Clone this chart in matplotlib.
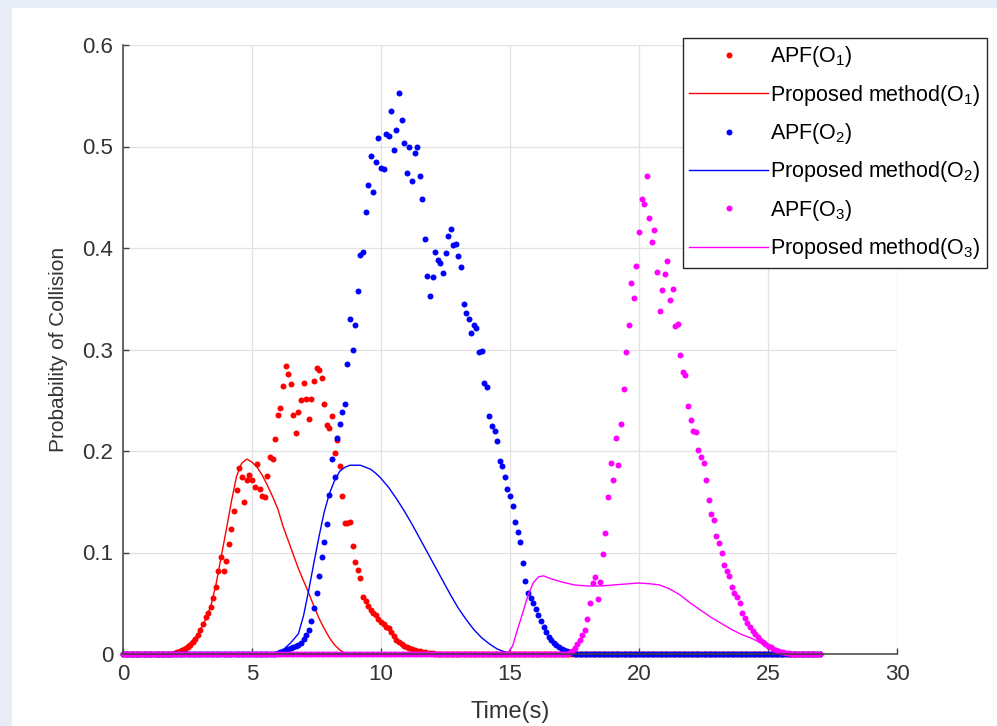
import numpy as np
import matplotlib.pyplot as plt
from matplotlib.patches import Rectangle

plt.rcParams['font.family'] = ['Liberation Sans', 'DejaVu Sans']
plt.rcParams['mathtext.fontset'] = 'custom'
plt.rcParams['mathtext.rm'] = 'Liberation Sans'
plt.rcParams['mathtext.it'] = 'Liberation Sans'
plt.rcParams['mathtext.default'] = 'regular'

# APF samples every 0.1 s over 0..27 s
t_apf = np.round(np.arange(0, 27.01, 0.1), 1)

# nonzero part of each APF series, with the time of its first sample
apf_o1_start = 2.0
apf_o1_vals = [
    0.001, 0.002, 0.003, 0.004, 0.005, 0.007, 0.009, 0.012, 0.015, 0.019,
    0.024, 0.030, 0.036, 0.040, 0.046, 0.055, 0.066, 0.082, 0.096, 0.082,
    0.092, 0.108, 0.123, 0.141, 0.162, 0.183, 0.174, 0.150, 0.171, 0.176,
    0.171, 0.165, 0.187, 0.163, 0.156, 0.155, 0.175, 0.194, 0.192, 0.212,
    0.235, 0.242, 0.264, 0.284, 0.276, 0.266, 0.235, 0.218, 0.238, 0.250,
    0.267, 0.251, 0.232, 0.251, 0.269, 0.282, 0.280, 0.272, 0.246, 0.226,
    0.223, 0.234, 0.198, 0.211, 0.185, 0.156, 0.129, 0.129, 0.130, 0.106,
    0.091, 0.083, 0.075, 0.056, 0.052, 0.047, 0.043, 0.040, 0.038, 0.034,
    0.032, 0.030, 0.027, 0.026, 0.022, 0.018, 0.014, 0.012, 0.010, 0.008,
    0.007, 0.006, 0.005, 0.004, 0.003, 0.003, 0.002, 0.002, 0.001, 0.001,
    0.001,
]

apf_o2_start = 6.0
apf_o2_vals = [
    0.001, 0.002, 0.003, 0.004, 0.005, 0.006, 0.007, 0.008, 0.009, 0.011,
    0.015, 0.019, 0.024, 0.033, 0.045, 0.060, 0.077, 0.096, 0.110, 0.128,
    0.157, 0.192, 0.174, 0.213, 0.227, 0.238, 0.246, 0.286, 0.330, 0.300,
    0.324, 0.358, 0.393, 0.396, 0.435, 0.462, 0.491, 0.455, 0.485, 0.508,
    0.479, 0.478, 0.512, 0.510, 0.535, 0.497, 0.516, 0.553, 0.526, 0.503,
    0.474, 0.500, 0.466, 0.494, 0.500, 0.471, 0.448, 0.409, 0.372, 0.353,
    0.371, 0.396, 0.388, 0.385, 0.375, 0.395, 0.412, 0.419, 0.403, 0.404,
    0.392, 0.381, 0.345, 0.336, 0.330, 0.316, 0.324, 0.321, 0.298, 0.299,
    0.267, 0.263, 0.234, 0.225, 0.220, 0.210, 0.190, 0.185, 0.174, 0.163,
    0.156, 0.146, 0.130, 0.120, 0.110, 0.090, 0.072, 0.060, 0.055, 0.050,
    0.044, 0.038, 0.033, 0.027, 0.022, 0.017, 0.014, 0.011, 0.009, 0.007,
    0.005, 0.004, 0.003, 0.002, 0.001,
]

apf_o3_start = 17.3
apf_o3_vals = [
    0.001, 0.003, 0.006, 0.010, 0.014, 0.019, 0.024, 0.034, 0.050, 0.070,
    0.076, 0.054, 0.071, 0.099, 0.119, 0.155, 0.188, 0.171, 0.213, 0.186,
    0.227, 0.261, 0.298, 0.324, 0.366, 0.351, 0.382, 0.416, 0.448, 0.443,
    0.471, 0.430, 0.406, 0.418, 0.376, 0.338, 0.359, 0.374, 0.387, 0.349,
    0.360, 0.323, 0.325, 0.295, 0.278, 0.275, 0.244, 0.231, 0.220, 0.219,
    0.201, 0.194, 0.188, 0.171, 0.152, 0.138, 0.132, 0.116, 0.109, 0.100,
    0.088, 0.082, 0.077, 0.066, 0.060, 0.056, 0.050, 0.040, 0.035, 0.031,
    0.027, 0.023, 0.020, 0.017, 0.014, 0.012, 0.010, 0.008, 0.007, 0.005,
    0.004, 0.003, 0.002, 0.002, 0.001, 0.001,
]

# proposed method curves (time, probability)
prop_o1_t = [0, 1.5, 1.8, 2.0, 2.2, 2.4, 2.6, 2.8, 3.0, 3.2, 3.4, 3.6, 3.8, 4.0,
             4.2, 4.4, 4.6, 4.8, 5.0, 5.2, 5.4, 5.6, 5.8, 6.0, 6.2, 6.4, 6.6,
             6.8, 7.0, 7.2, 7.4, 7.6, 7.8, 8.0, 8.2, 8.4, 8.6, 8.8, 27]
prop_o1_p = [0, 0, 0.001, 0.002, 0.004, 0.007, 0.011, 0.016, 0.024, 0.034,
             0.047, 0.068, 0.095, 0.122, 0.150, 0.175, 0.188, 0.192, 0.189,
             0.184, 0.176, 0.166, 0.155, 0.143, 0.126, 0.112, 0.098, 0.084,
             0.072, 0.060, 0.047, 0.035, 0.025, 0.016, 0.009, 0.004, 0.001, 0, 0]

prop_o2_t = [0, 5.9, 6.2, 6.5, 6.8, 7.0, 7.2, 7.4, 7.6, 7.8, 8.0, 8.2, 8.4, 8.6,
             8.8, 9.0, 9.2, 9.4, 9.6, 9.8, 10.0, 10.3, 10.6, 10.9, 11.2, 11.5,
             11.8, 12.1, 12.4, 12.7, 13.0, 13.3, 13.6, 13.9, 14.2, 14.5, 14.8,
             15.0, 27]
prop_o2_p = [0, 0, 0.004, 0.011, 0.020, 0.038, 0.063, 0.090, 0.116, 0.140,
             0.158, 0.171, 0.180, 0.184, 0.186, 0.186, 0.186, 0.184, 0.182,
             0.178, 0.173, 0.164, 0.153, 0.141, 0.128, 0.114, 0.100, 0.086,
             0.072, 0.058, 0.045, 0.034, 0.024, 0.016, 0.010, 0.005, 0.002, 0, 0]

prop_o3_t = [0, 14.9, 15.1, 15.3, 15.5, 15.7, 15.9, 16.1, 16.3, 16.6, 17.0, 17.5,
             18.0, 18.5, 19.0, 19.5, 20.0, 20.5, 20.8, 21.2, 21.6, 22.0, 22.4,
             22.8, 23.2, 23.6, 24.0, 24.4, 24.8, 25.1, 25.4, 25.6, 27]
prop_o3_p = [0, 0, 0.008, 0.025, 0.041, 0.058, 0.070, 0.076, 0.077, 0.074,
             0.071, 0.068, 0.067, 0.067, 0.068, 0.069, 0.070, 0.069, 0.068,
             0.064, 0.058, 0.050, 0.043, 0.036, 0.030, 0.024, 0.019, 0.015,
             0.010, 0.005, 0.001, 0, 0]


def on_grid(t0, vals):
    y = np.zeros(len(t_apf))
    i = int(round(t0 * 10))
    y[i:i + len(vals)] = vals
    return y


apf_o1 = on_grid(apf_o1_start, apf_o1_vals)
apf_o2 = on_grid(apf_o2_start, apf_o2_vals)
apf_o3 = on_grid(apf_o3_start, apf_o3_vals)

fig = plt.figure(figsize=(9.97, 7.26), dpi=100)
fig.patch.set_facecolor('#e8ecf7')
fig.add_artist(Rectangle((12 / 997, 0), 1, 718 / 726, transform=fig.transFigure,
                         facecolor='white', edgecolor='none', zorder=0))

ax = fig.add_axes([123 / 997, 72 / 726, 774 / 997, 609 / 726])
ax.set_facecolor('white')

# markers sit on the zero line, so don't clip them at the axes edge
dot = dict(ls='none', marker='o', markersize=4.3, markeredgewidth=0, clip_on=False)
ax.plot(t_apf, apf_o1, color='#ff0000', label='APF(O$_1$)', **dot)
ax.plot(prop_o1_t, prop_o1_p, color='#ff0000', lw=1.0, label='Proposed method(O$_1$)')
ax.plot(t_apf, apf_o2, color='#0000ff', label='APF(O$_2$)', **dot)
ax.plot(prop_o2_t, prop_o2_p, color='#0000ff', lw=1.0, label='Proposed method(O$_2$)')
ax.plot(t_apf, apf_o3, color='#ff00ff', label='APF(O$_3$)', **dot)
ax.plot(prop_o3_t, prop_o3_p, color='#ff00ff', lw=1.0, label='Proposed method(O$_3$)')

ax.set_xlim(0, 30)
ax.set_ylim(0, 0.6)
ax.set_xticks(range(0, 31, 5))
ax.set_yticks([0, 0.1, 0.2, 0.3, 0.4, 0.5, 0.6])
ax.set_yticklabels(['0', '0.1', '0.2', '0.3', '0.4', '0.5', '0.6'])
ax.grid(True, color='#e2e2e2', lw=0.9)
ax.set_axisbelow(True)

for side in ('top', 'right'):
    ax.spines[side].set_visible(False)
for side in ('left', 'bottom'):
    ax.spines[side].set_color('#404040')
    ax.spines[side].set_linewidth(1.1)
ax.tick_params(direction='in', length=4.5, width=1.0, color='#404040',
               labelcolor='#333333', labelsize=16, pad=7)

ax.set_xlabel('Time(s)', fontsize=17, color='#333333', labelpad=12)
ax.set_ylabel('Probability of Collision', fontsize=15, color='#333333', labelpad=10)

leg = ax.legend(loc='upper right', bbox_to_anchor=(987 / 997, 1 - 38 / 726),
                bbox_transform=fig.transFigure, borderaxespad=0, fontsize=15.5,
                numpoints=1, handlelength=3.65, handletextpad=0.1,
                labelspacing=0.62, fancybox=False, framealpha=1,
                edgecolor='#262626', borderpad=0.3)
leg.get_frame().set_linewidth(1.0)

fig.savefig('out.png', dpi=100, facecolor=fig.get_facecolor())
